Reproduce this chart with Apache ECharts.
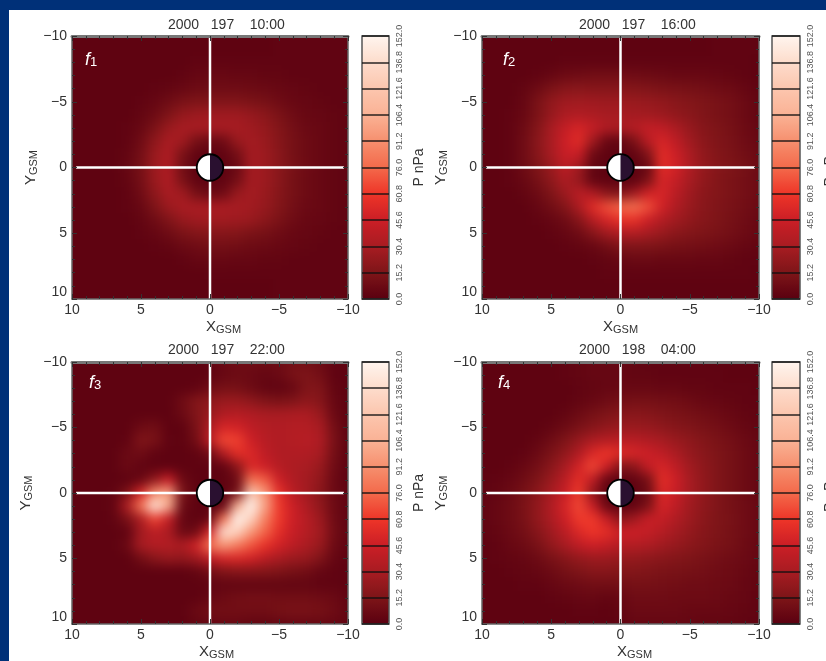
<!DOCTYPE html>
<html><head><meta charset="utf-8">
<style>html,body{margin:0;padding:0;background:#fff;overflow:hidden}#c{position:absolute;left:0;top:0;width:826px;height:661px;background:#fff}</style>
<script src="https://cdn.jsdelivr.net/npm/echarts@6/dist/echarts.min.js"></script>
</head><body><div id="c"></div>
<script>
// Cell coordinates (GSM, Earth radii)
const xCells = [10,9,8,7,6,5,4,3,2,1,0,-1,-2,-3,-4,-5,-6,-7,-8,-9,-10];
const yCells = [-10,-9,-8,-7,-6,-5,-4,-3,-2,-1,0,1,2,3,4,5,6,7,8,9,10];
// Pressure (nPa); rows are yCells, columns are xCells
const f1Values = [
[2,2,2,2,2,2,2,2,2,2,2,2,2,2,2,3,3,3,3,3,3],
[2,2,2,2,2,2,2,2,2,2,2,2,2,2,2,3,3,3,3,3,3],
[2,2,2,2,2,2,2,2,2,3,3,3,3,3,3,3,3,3,3,3,3],
[2,2,2,2,2,2,2,2,3,5,6,6,5,5,4,4,3,3,3,3,3],
[2,2,2,2,2,2,3,4,6,8,9,9,9,8,7,6,5,4,3,3,3],
[2,2,2,2,2,3,5,9,13,15,16,16,16,14,12,9,6,5,4,3,3],
[2,2,2,2,2,4,8,15,23,26,27,27,27,24,20,14,9,6,5,4,3],
[2,2,2,2,3,6,14,25,30,30,30,30,30,27,23,17,11,7,6,4,3],
[2,2,2,2,3,9,21,31,28,12,7,9,25,29,25,18,12,8,6,4,3],
[2,2,2,2,4,11,25,33,14,3,2,3,11,29,26,19,12,8,6,4,3],
[2,2,2,2,5,12,26,33,11,2,2,2,7,29,26,19,13,9,6,4,3],
[2,2,2,2,4,11,25,33,14,3,2,3,11,29,26,19,12,8,6,4,3],
[2,2,2,2,3,9,21,31,28,12,7,9,25,29,25,18,12,8,6,4,3],
[2,2,2,2,3,6,15,26,31,31,31,31,30,28,24,17,11,7,6,4,3],
[2,2,2,2,2,4,9,16,24,27,28,28,27,25,20,14,9,6,5,4,3],
[2,2,2,2,2,3,5,9,14,17,18,18,17,14,12,9,6,5,4,3,3],
[2,2,2,2,2,2,3,4,7,9,11,11,10,8,7,6,5,4,3,3,3],
[2,2,2,2,2,2,2,2,3,5,6,6,5,5,4,4,3,3,3,3,3],
[2,2,2,2,2,2,2,2,2,2,3,3,3,3,3,3,3,3,3,3,3],
[2,2,2,2,2,2,2,2,2,2,2,2,2,2,2,3,3,3,3,3,3],
[2,2,2,2,2,2,2,2,2,2,2,2,2,2,2,3,3,3,3,3,3]];
const f2Values = [
[2,2,2,2,2,2,2,2,2,2,2,2,2,2,2,2,2,3,3,3,3],
[2,2,2,2,2,2,2,2,2,2,2,2,2,2,2,2,2,3,3,3,3],
[2,2,2,2,2,2,3,3,3,3,3,3,3,3,3,3,3,3,3,3,2],
[2,2,2,2,3,5,8,9,10,10,10,9,8,7,6,6,6,5,4,3,2],
[2,2,2,4,8,14,18,19,18,18,18,17,16,14,13,12,11,9,8,5,3],
[2,2,2,5,13,22,27,28,27,26,26,25,24,22,19,17,15,13,11,7,4],
[2,2,3,6,14,24,32,34,32,30,30,29,28,26,22,19,16,13,11,7,4],
[2,2,3,8,17,30,42,50,42,34,32,36,42,40,32,24,18,15,12,8,5],
[2,2,3,9,19,31,46,55,28,6,4,14,38,50,40,28,20,16,13,9,6],
[2,2,3,9,18,30,44,44,8,2,2,3,16,55,46,32,22,17,14,10,7],
[2,2,3,8,15,25,38,28,4,2,2,2,6,55,48,33,23,18,15,12,8],
[2,2,3,6,12,21,32,24,4,2,2,2,14,50,42,30,22,17,14,11,8],
[2,2,2,4,8,15,26,38,34,20,16,28,48,50,38,27,20,17,14,11,8],
[2,2,2,2,5,10,17,32,54,68,75,78,68,48,34,25,19,16,13,10,7],
[2,2,2,2,3,5,9,18,36,50,58,58,46,35,28,22,18,15,12,9,6],
[2,2,2,2,2,3,5,9,18,28,34,35,30,25,20,17,15,13,11,8,6],
[2,2,2,2,2,2,3,4,6,10,15,16,15,14,12,11,10,9,7,5,4],
[2,2,2,2,2,2,2,2,3,4,6,7,7,6,6,6,5,5,4,3,3],
[2,2,2,2,2,2,2,2,2,3,3,3,3,3,3,3,3,3,3,3,2],
[2,2,2,2,2,2,2,2,2,2,2,2,2,2,2,2,2,2,2,2,2],
[2,2,2,2,2,2,2,2,2,2,2,2,2,2,2,2,2,2,2,2,2]];
const f3Values = [
[2,2,2,2,2,2,2,2,2,2,3,7,9,9,8,9,11,11,8,3,2],
[2,2,2,2,2,2,2,2,2,2,3,6,8,7,5,7,13,15,11,3,2],
[2,2,2,2,2,2,2,2,2,3,9,12,12,8,4,3,6,16,16,4,2],
[2,2,2,2,2,2,2,2,9,17,21,25,25,21,16,14,16,21,18,6,2],
[2,2,2,2,2,2,2,2,7,16,25,34,36,34,31,31,32,32,25,7,2],
[2,2,2,2,2,8,10,2,2,13,33,50,48,40,35,34,35,35,31,11,2],
[2,2,2,2,3,16,13,3,2,10,38,66,64,46,37,34,35,37,33,13,2],
[2,2,2,2,7,9,3,2,2,3,9,34,56,52,40,34,34,34,30,11,2],
[2,2,2,2,7,3,2,2,2,2,2,3,20,52,46,36,32,31,25,9,2],
[2,2,2,2,2,6,22,45,8,2,2,2,8,80,72,46,34,29,22,7,2],
[2,2,2,3,14,50,90,100,14,2,2,2,12,125,95,58,38,29,20,7,3],
[2,2,2,4,32,80,145,105,8,2,2,3,105,160,100,62,46,33,22,8,3],
[2,2,2,3,13,32,65,42,5,2,5,80,170,130,85,62,46,37,26,9,3],
[2,2,2,2,3,28,38,32,7,9,50,140,130,95,74,56,44,36,28,10,3],
[2,2,2,2,7,30,35,35,32,48,80,95,84,70,58,48,39,32,25,8,3],
[2,2,2,2,2,10,19,24,22,27,40,50,52,48,38,31,26,24,16,5,2],
[2,2,2,2,2,2,2,2,2,4,10,16,18,18,17,15,12,10,5,3,2],
[2,2,2,2,2,2,2,2,2,2,3,4,4,4,4,4,4,4,3,3,2],
[2,2,2,2,2,2,2,2,2,2,5,8,10,11,11,10,10,10,9,7,3],
[2,2,2,2,2,2,2,2,2,7,10,10,10,10,10,12,13,13,12,9,4],
[2,2,2,2,2,2,2,2,2,4,5,6,6,4,4,5,6,6,6,5,3]];
const f4Values = [
[2,2,2,2,2,2,3,4,5,5,5,4,3,3,3,3,3,2,2,2,2],
[2,2,2,2,2,2,3,4,5,5,5,4,4,3,3,3,3,3,2,2,2],
[2,2,2,2,2,2,2,3,4,5,6,6,6,5,5,4,4,3,3,3,2],
[2,2,2,2,2,2,2,4,6,9,11,12,12,11,10,8,6,5,4,3,3],
[2,2,2,2,2,2,4,8,12,15,18,19,18,16,14,12,10,8,6,4,3],
[2,2,2,2,2,4,8,13,18,22,25,25,24,21,18,16,13,11,8,5,4],
[2,2,2,2,4,9,15,24,32,36,38,37,34,30,25,21,17,14,11,7,5],
[2,2,2,3,7,14,22,34,52,60,54,50,46,40,32,24,19,15,12,8,5],
[2,2,3,6,11,19,30,48,66,46,16,20,42,50,40,28,21,16,12,8,5],
[2,3,5,9,15,25,38,56,40,5,2,3,12,56,46,30,22,16,12,8,5],
[3,4,7,12,20,30,44,62,22,2,2,2,8,52,44,30,22,16,12,8,5],
[3,5,8,14,22,34,50,66,44,6,2,3,14,50,40,28,21,16,12,9,6],
[3,5,8,13,22,32,46,62,62,44,20,28,44,42,34,26,20,15,13,9,6],
[3,4,7,11,18,27,38,52,60,56,46,46,42,36,29,23,18,15,12,9,6],
[2,3,6,8,13,22,30,40,46,42,36,35,33,28,24,20,17,14,12,8,5],
[2,3,4,5,8,13,18,23,26,26,24,23,21,19,17,15,13,11,9,7,5],
[2,2,3,4,5,8,12,15,18,18,17,17,16,14,13,12,11,9,8,6,4],
[2,2,2,3,3,5,7,9,10,10,11,12,12,11,10,9,9,8,7,5,4],
[2,2,2,2,2,3,4,5,6,4,6,9,9,9,8,8,8,7,6,5,3],
[2,2,2,2,2,2,2,3,3,2,4,7,7,7,7,6,6,6,5,4,3],
[2,2,2,2,2,2,2,2,2,2,3,5,5,5,5,5,4,4,4,3,3]];
const panelValues = [f1Values, f2Values, f3Values, f4Values];
const panelTitles = ['2000   197    10:00','2000   197    16:00','2000   197    22:00','2000   198    04:00'];
const colorStops = ['#5a0010','#7e1518','#a81c22','#cb1e26','#ee3528','#f36a4b','#f68f6e','#fab295','#fcc6ae','#fddccc','#fff5ee'];
const pMin = 0, pMax = 152, pStep = 15.2;
const axisMin = -10, axisMax = 10;
const earthRadius = 1;

const FONT = '"Liberation Sans", Arial, sans-serif';
const INK = '#333';
const P = [
 {l:72,t:36,w:276,h:263,bl:362,bw:27,titleX:168,titleY:18,fx:85,fy:50,xnX:206,xnY:319,yGap:33,barName:23},
 {l:482,t:36,w:277,h:263,bl:772,bw:28,titleX:579,titleY:18,fx:503,fy:50,xnX:603,xnY:319,yGap:25,barName:23},
 {l:72,t:362,w:276,h:262,bl:362,bw:27,titleX:168,titleY:343,fx:89,fy:373,xnX:199,xnY:644,yGap:38,barName:23},
 {l:482,t:362,w:277,h:262,bl:772,bw:28,titleX:579,titleY:343,fx:498,fy:373,xnX:617,xnY:644,yGap:25,barName:23}
];
const fmtMinus = v => String(v).replace('-', '\u2212');
const grid=[],xAxis=[],yAxis=[],series=[],visualMap=[],title=[];
const hidden={show:false};
P.forEach((p,i)=>{
  const cw=p.w/20, ch=p.h/20;
  const base=grid.length;
  grid.push({left:p.l-cw/2,top:p.t-ch/2,width:p.w+cw,height:p.h+ch,zlevel:0,outerBoundsMode:'none'});
  grid.push({left:p.l,top:p.t,width:p.w,height:p.h,zlevel:1,outerBoundsMode:'none'});
  grid.push({left:p.bl,top:p.t,width:p.bw,height:p.h,zlevel:1,z:5,outerBoundsMode:'none',show:true,backgroundColor:'transparent',borderColor:'#555',borderWidth:1.5});
  const hx=xAxis.length, hy=yAxis.length;
  xAxis.push({type:'category',gridIndex:base,data:xCells.map(String),show:false,boundaryGap:true});
  yAxis.push({type:'category',gridIndex:base,data:yCells.map(String),inverse:true,show:false,boundaryGap:true});
  const fx=xAxis.length, fy=yAxis.length;
  const common={type:'value',gridIndex:base+1,min:axisMin,max:axisMax,interval:5,inverse:true,zlevel:1,z:5,splitLine:hidden,
    axisTick:{show:true,inside:true,length:5,lineStyle:{color:'#333',width:1}},
    minorTick:{show:true,splitNumber:5,length:3,lineStyle:{color:'#333',width:1}}};
  xAxis.push({...common,position:'bottom',axisLine:{onZero:false,lineStyle:{color:'#666',width:1.5}},
    axisLabel:{color:INK,fontSize:14,fontFamily:FONT,margin:4,formatter:fmtMinus}});
  xAxis.push({...common,position:'top',axisLine:{onZero:false,lineStyle:{color:'#777',width:3}},axisLabel:hidden});
  yAxis.push({...common,position:'left',axisLine:{onZero:false,lineStyle:{color:'#666',width:1.5}},
    name:'Y{s|GSM}',nameLocation:'middle',nameGap:p.yGap,nameRotate:90,
    nameTextStyle:{color:INK,fontSize:15,fontFamily:FONT,rich:{s:{fontSize:11,fontFamily:FONT,color:INK,verticalAlign:'bottom',padding:[5,0,0,0]}}},
    axisLabel:{color:INK,fontSize:14,fontFamily:FONT,margin:5,formatter:fmtMinus,verticalAlignMaxLabel:'bottom'}});
  yAxis.push({...common,position:'right',axisLine:{onZero:false,lineStyle:{color:'#666',width:1.5}},axisLabel:hidden});
  const bx=xAxis.length, by=yAxis.length;
  xAxis.push({type:'value',gridIndex:base+2,min:0,max:1,show:false});
  yAxis.push({type:'value',gridIndex:base+2,min:pMin,max:pMax,interval:pStep,position:'right',zlevel:1,z:6,
    axisLine:hidden,axisTick:hidden,
    splitLine:{show:true,lineStyle:{color:'#111',width:1.5,opacity:0.9}},
    name:'P nPa',nameLocation:'middle',nameGap:p.barName,nameRotate:90,
    nameTextStyle:{color:INK,fontSize:14,fontFamily:FONT},
    axisLabel:{color:'#555',fontSize:9,fontFamily:FONT,rotate:90,margin:6,formatter:v=>v.toFixed(1),showMinLabel:true,showMaxLabel:true,hideOverlap:false}});
  const data=[];
  panelValues[i].forEach((row,r)=>row.forEach((v,c)=>data.push([c,r,v])));
  const heatIndex=series.length;
  series.push({type:'heatmap',name:'f'+(i+1),xAxisIndex:hx,yAxisIndex:hy,data,zlevel:0,progressive:0,silent:true,animation:false,emphasis:{disabled:true},itemStyle:{borderWidth:0}});
  series.push({type:'line',xAxisIndex:fx,yAxisIndex:fy,data:[[9.7,0],[-9.7,0]],symbol:'none',silent:true,zlevel:1,z:3,lineStyle:{color:'#fff',width:2.5},animation:false});
  series.push({type:'line',xAxisIndex:fx,yAxisIndex:fy,data:[[0,axisMin],[0,axisMax]],symbol:'none',silent:true,zlevel:1,z:3,lineStyle:{color:'#fff',width:2.5},animation:false});
  series.push({type:'custom',xAxisIndex:fx,yAxisIndex:fy,data:[[0,0]],zlevel:1,z:4,silent:true,clip:false,animation:false,
    renderItem:(params,api)=>{
      const c=api.coord([0,0]); const r=api.size([earthRadius,0])[0]*0.96;
      return {type:'group',children:[
        {type:'sector',shape:{cx:c[0],cy:c[1],r,r0:0,startAngle:Math.PI/2,endAngle:Math.PI*1.5},style:{fill:'#fff'}},
        {type:'sector',shape:{cx:c[0],cy:c[1],r,r0:0,startAngle:-Math.PI/2,endAngle:Math.PI/2},style:{fill:'#2a1030'}},
        {type:'circle',shape:{cx:c[0],cy:c[1],r},style:{fill:'none',stroke:'#000',lineWidth:1.8}}
      ]};
    }});
  visualMap.push({type:'continuous',min:pMin,max:pMax,seriesIndex:heatIndex,inRange:{color:colorStops},calculable:false,realtime:false,hoverLink:false,
    left:p.bl,top:p.t,itemWidth:p.bw,itemHeight:p.h,padding:0,text:null,show:true,zlevel:1,z:2,borderWidth:0});
  title.push({text:panelTitles[i],left:p.titleX,top:p.titleY,padding:0,zlevel:1,textStyle:{color:INK,fontSize:14,fontWeight:'normal',fontFamily:FONT}});
  title.push({text:'X{s|GSM}',left:p.xnX,top:p.xnY,padding:0,zlevel:1,textStyle:{color:INK,fontSize:15,fontWeight:'normal',fontFamily:FONT,rich:{s:{fontSize:11,fontFamily:FONT,color:INK,verticalAlign:'bottom',padding:[5,0,0,0]}}}});
  title.push({text:'{i|f}{s|'+(i+1)+'}',left:p.fx,top:p.fy,padding:0,zlevel:1,textStyle:{color:'#fff',fontWeight:'normal',rich:{i:{fontSize:18,fontStyle:'italic',color:'#fff',fontFamily:FONT},s:{fontSize:13,color:'#fff',fontFamily:FONT,verticalAlign:'bottom',padding:[6,0,0,0]}}}});
});
const chart=echarts.init(document.getElementById('c'),null,{renderer:'canvas',width:826,height:661});
chart.setOption({
  animation:false,
  backgroundColor:'#650510',
  textStyle:{fontFamily:FONT},
  title,grid,xAxis,yAxis,series,visualMap,
  graphic:{elements:[
    {type:'rect',zlevel:1,z:100,silent:true,shape:{x:0,y:0,width:826,height:10},style:{fill:'#003078'}},
    {type:'rect',zlevel:1,z:100,silent:true,shape:{x:0,y:0,width:9,height:661},style:{fill:'#003078'}}
  ]}
});
const heatCanvas=document.querySelector('canvas[data-zr-dom-id="zr_0"]');
if(heatCanvas){
  heatCanvas.style.filter='blur(6px)';
  const rects=P.map(p=>`M${p.l} ${p.t}H${p.l+p.w}V${p.t+p.h}H${p.l}Z`).join(' ');
  heatCanvas.style.clipPath=`path("${rects}")`;
}
</script></body></html>
